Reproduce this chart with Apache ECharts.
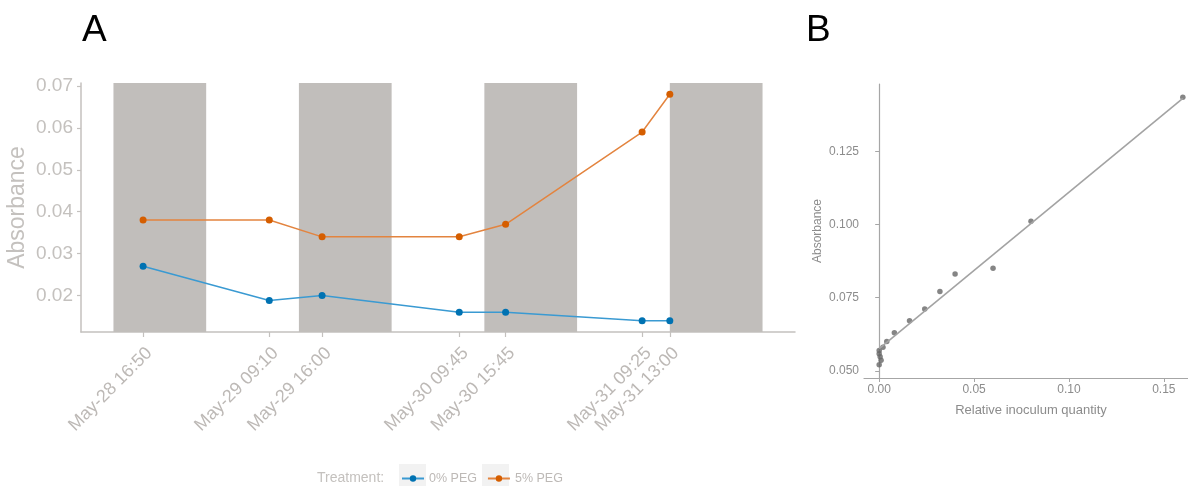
<!DOCTYPE html>
<html>
<head>
<meta charset="utf-8">
<script src="https://cdn.jsdelivr.net/npm/echarts@6/dist/echarts.min.js"></script>
<style>
  html, body { margin: 0; padding: 0; background: #ffffff; }
  #chart { width: 1188px; height: 486px; }
</style>
</head>
<body>
<div id="chart"></div>
<script>
// ---- Panel A: absorbance over time ----
const sampleTimes = ['May-28 16:50', 'May-29 09:10', 'May-29 16:00', 'May-30 09:45',
                     'May-30 15:45', 'May-31 09:25', 'May-31 13:00'];
const peg0 = [0.027, 0.0188, 0.020, 0.016, 0.016, 0.014, 0.014];
const peg5 = [0.038, 0.038, 0.034, 0.034, 0.037, 0.059, 0.068];
const seriesNames = ['0% PEG', '5% PEG'];
// dark periods (shaded bands)
const darkStart = ['May-28 13:00', 'May-29 13:00', 'May-30 13:00', 'May-31 13:00'];
const darkEnd   = ['May-29 01:00', 'May-30 01:00', 'May-31 01:00', 'Jun-01 01:00'];
const absTicksA = [0.02, 0.03, 0.04, 0.05, 0.06, 0.07];

// ---- Panel B: standard curve ----
const inoculum   = [0.16, 0.08, 0.06, 0.04, 0.032, 0.024, 0.016, 0.008, 0.004, 0.002, 0.001, 0.0005, 0, 0, 0];
const absorbance = [0.1434, 0.1011, 0.085, 0.0831, 0.0771, 0.0711, 0.0671, 0.063, 0.0600, 0.0580, 0.0536, 0.0548, 0.0569, 0.0558, 0.0521];
const fitIntercept = 0.0576;
const fitSlope = 0.534;
const inoculumTicks = [0, 0.05, 0.10, 0.15];
const absTicksB = [0.050, 0.075, 0.100, 0.125];

// time string -> hours since May-28 00:00
const monthOffset = { May: 0, Jun: 31 };
function toHours(s) {
  const m = s.match(/^(\w+)-(\d+) (\d+):(\d+)$/);
  const day = monthOffset[m[1]] + parseInt(m[2], 10) - 28;
  return day * 24 + parseInt(m[3], 10) + parseInt(m[4], 10) / 60;
}
const tHours = sampleTimes.map(toHours);
function labelFor(v) {
  let best = 0;
  tHours.forEach((t, i) => { if (Math.abs(t - v) < Math.abs(tHours[best] - v)) best = i; });
  return sampleTimes[best];
}

// axis ranges with a 5% pad, in the style of ggplot
const spanStart = toHours(darkStart[0]);
const spanEnd = toHours(darkEnd[darkEnd.length - 1]);
const padX = (spanEnd - spanStart) * 0.05;
const allA = peg0.concat(peg5);
const loA = Math.min(...allA), hiA = Math.max(...allA);
const padA = (hiA - loA) * 0.05;
const loBx = Math.min(...inoculum), hiBx = Math.max(...inoculum);
const padBx = (hiBx - loBx) * 0.05;
const loBy = Math.min(...absorbance), hiBy = Math.max(...absorbance);
const padBy = (hiBy - loBy) * 0.05;

const chart = echarts.init(document.getElementById('chart'));
const fontA = 'Liberation Sans, Arial, sans-serif';
const greyA = '#c4c1be';
const greyB = '#8c8c8c';

chart.setOption({
  animation: false,
  backgroundColor: '#ffffff',
  textStyle: { fontFamily: fontA },
  grid: [
    { left: 81, top: 83, width: 714, height: 249, outerBoundsMode: 'none', containLabel: false },
    { left: 864, top: 84, width: 334, height: 294, outerBoundsMode: 'none', containLabel: false }
  ],
  xAxis: [
    {
      gridIndex: 0, type: 'value',
      min: spanStart - padX, max: spanEnd + padX,
      splitLine: { show: false },
      axisLine: { lineStyle: { color: greyA, width: 1.5 } },
      axisTick: { customValues: tHours, length: 5, lineStyle: { color: greyA, width: 1.2 } },
      axisLabel: {
        customValues: tHours, rotate: 45, margin: 12, verticalAlign: 'top',
        color: '#bdb9b6', fontSize: 18, fontFamily: fontA,
        formatter: v => labelFor(v)
      }
    },
    {
      gridIndex: 1, type: 'value',
      min: loBx - padBx, max: hiBx + padBx,
      splitLine: { show: false },
      axisLine: { lineStyle: { color: '#a6a6a6', width: 1.2 } },
      axisTick: { customValues: inoculumTicks, length: 4, lineStyle: { color: '#a6a6a6' } },
      axisLabel: { customValues: inoculumTicks, color: greyB, fontSize: 12, margin: 6,
                   formatter: v => v.toFixed(2) },
      name: 'Relative inoculum quantity', nameLocation: 'middle', nameGap: 26,
      nameMoveOverlap: false,
      nameTextStyle: { color: greyB, fontSize: 13 }
    }
  ],
  yAxis: [
    {
      gridIndex: 0, type: 'value',
      min: loA - padA, max: hiA + padA,
      splitLine: { show: false },
      axisLine: { show: true, lineStyle: { color: greyA, width: 1.5 } },
      axisTick: { show: true, customValues: absTicksA, length: 4, lineStyle: { color: greyA, width: 1.2 } },
      axisLabel: { customValues: absTicksA, color: greyA, fontSize: 19, margin: 8,
                   formatter: v => v.toFixed(2) },
      name: 'Absorbance', nameLocation: 'middle', nameGap: 52,
      nameMoveOverlap: false,
      nameTextStyle: { color: greyA, fontSize: 23 }
    },
    {
      gridIndex: 1, type: 'value',
      min: loBy - padBy, max: hiBy + padBy,
      splitLine: { show: false },
      axisLine: { show: true, lineStyle: { color: '#a6a6a6', width: 1.2 } },
      axisTick: { show: true, customValues: absTicksB, length: 4, lineStyle: { color: '#a6a6a6' } },
      axisLabel: { customValues: absTicksB, color: greyB, fontSize: 12, margin: 5,
                   formatter: v => v.toFixed(3) },
      name: 'Absorbance', nameLocation: 'middle', nameGap: 40,
      nameMoveOverlap: false,
      nameTextStyle: { color: greyB, fontSize: 12 }
    }
  ],
  legend: {
    data: seriesNames,
    left: 401, top: 472, padding: 0,
    itemWidth: 22, itemHeight: 8, itemGap: 10,
    textStyle: { color: '#bdb9b6', fontSize: 12.5, fontFamily: fontA }
  },
  graphic: [
    { type: 'text', left: 82, top: 12, style: { text: 'A', fontSize: 37, fontFamily: fontA, fill: '#000' } },
    { type: 'text', left: 806, top: 12, style: { text: 'B', fontSize: 37, fontFamily: fontA, fill: '#000' } },
    { type: 'text', left: 317, top: 471, style: { text: 'Treatment:', fontSize: 14, fontFamily: fontA, fill: '#c4c1be' } },
    { type: 'rect', z: -1, shape: { x: 399, y: 464, width: 27, height: 22 }, style: { fill: '#f2f2f2' } },
    { type: 'rect', z: -1, shape: { x: 482, y: 464, width: 27, height: 22 }, style: { fill: '#f2f2f2' } }
  ],
  series: [
    {
      name: 'dark', type: 'line', xAxisIndex: 0, yAxisIndex: 0, data: [], z: 1, silent: true,
      markArea: {
        silent: true,
        itemStyle: { color: '#c1bebb' },
        data: darkStart.map((s, i) => [{ xAxis: toHours(s) }, { xAxis: toHours(darkEnd[i]) }])
      }
    },
    {
      name: seriesNames[0], type: 'line', xAxisIndex: 0, yAxisIndex: 0, z: 3,
      data: tHours.map((t, i) => [t, peg0[i]]),
      symbol: 'circle', symbolSize: 7,
      itemStyle: { color: '#0072b2' },
      lineStyle: { color: '#3a9ad2', width: 1.5 }
    },
    {
      name: seriesNames[1], type: 'line', xAxisIndex: 0, yAxisIndex: 0, z: 3,
      data: tHours.map((t, i) => [t, peg5[i]]),
      symbol: 'circle', symbolSize: 7,
      itemStyle: { color: '#d55e00' },
      lineStyle: { color: '#e3843f', width: 1.5 }
    },
    {
      name: 'fit', type: 'line', xAxisIndex: 1, yAxisIndex: 1, symbol: 'none', silent: true,
      data: [[loBx, fitIntercept + fitSlope * loBx], [hiBx, fitIntercept + fitSlope * hiBx]],
      lineStyle: { color: '#a3a3a3', width: 1.6 }
    },
    {
      name: 'samples', type: 'scatter', xAxisIndex: 1, yAxisIndex: 1,
      data: inoculum.map((x, i) => [x, absorbance[i]]),
      symbolSize: 5.5, itemStyle: { color: '#666666' }
    }
  ]
});
</script>
</body>
</html>
